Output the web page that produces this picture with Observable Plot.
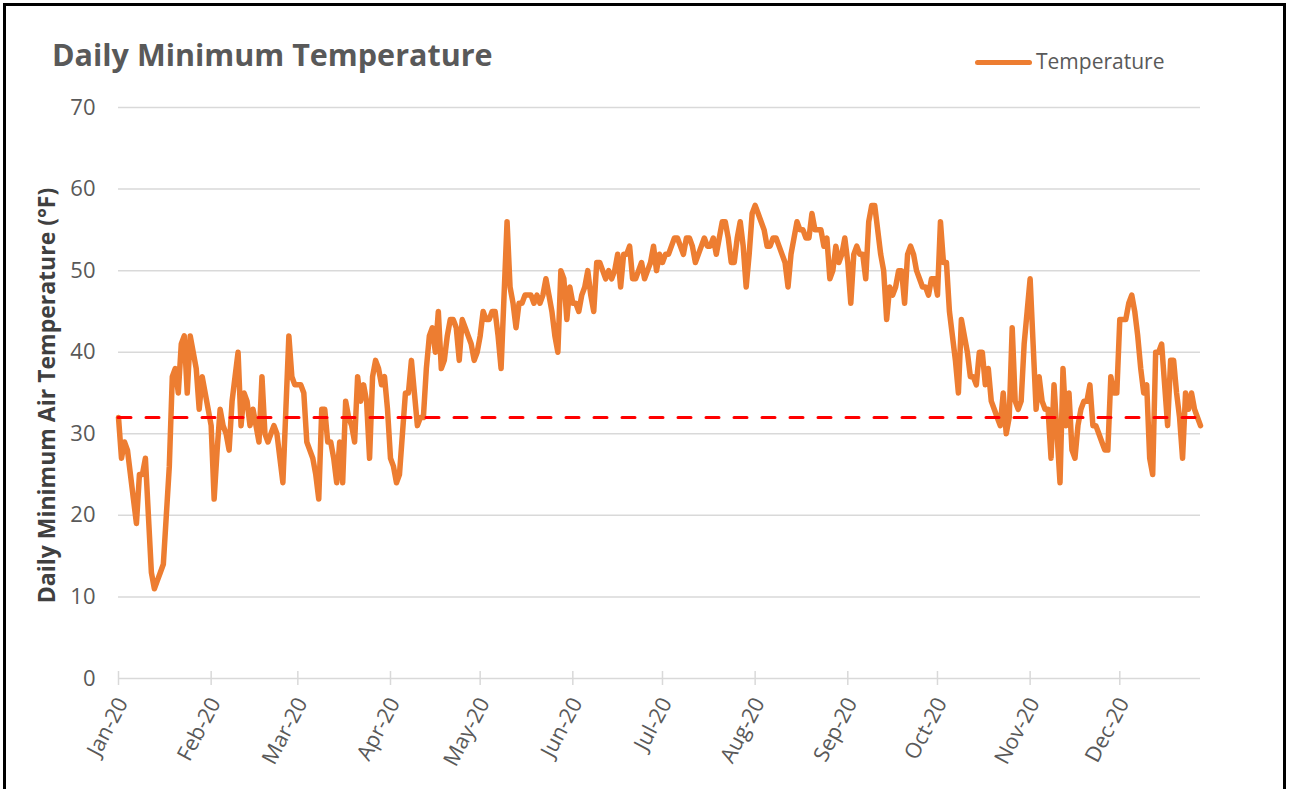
<!DOCTYPE html>
<html>
<head>
<meta charset="utf-8">
<script src="https://cdn.jsdelivr.net/npm/d3@7"></script>
<script src="https://cdn.jsdelivr.net/npm/@observablehq/plot@0.6"></script>
<style>
  body { margin: 0; background: #fff; }
  #wrap { position: relative; width: 1289px; height: 789px; overflow: hidden; font-family: "Open Sans", Lato, sans-serif; }
  #frame { position: absolute; left: 3px; top: 3px; width: 1283px; height: 900px; border: 3px solid #000; box-sizing: border-box; }
  #chart { position: absolute; left: 0; top: 0; }
  #title { position: absolute; left: 52px; top: 39px; font-size: 30.5px; font-weight: bold; color: #595959; line-height: 1; white-space: nowrap; }
  #legline { position: absolute; left: 975px; top: 59.5px; width: 57px; height: 5px; border-radius: 2.5px; background: #ED7D31; }
  #legtext { position: absolute; left: 1036px; top: 51px; font-size: 21px; color: #595959; line-height: 1; white-space: nowrap; }
</style>
</head>
<body>
<div id="wrap">
  <div id="frame"></div>
  <div id="chart"></div>
  <div id="title">Daily Minimum Temperature</div>
  <div id="legline"></div>
  <div id="legtext">Temperature</div>
</div>
<script>
// Daily minimum temperatures (°F), 2020, one array per month
const jan = [32,27,29,28,25,22,19,25,25,27,20,13,11,12,13,14,20,26,37,38,35,41,42,35,42,40,38,33,37,35,33];
const feb = [31,22,28,33,31,30,28,34,37,40,31,35,34,31,33,31,29,37,30,29,30,31,30,27,24,33,42,37,36];
const mar = [36,36,35,29,28,27,25,22,33,33,29,29,27,24,29,24,34,32,31,29,37,34,36,34,27,37,39,38,36,37,33];
const apr = [27,26,24,25,30,35,35,39,35,31,32,32,38,42,43,40,45,38,39,42,44,44,43,39,44,43,42,41,39,40];
const may = [42,45,44,44,45,45,42,38,47,56,48,46,43,46,46,47,47,47,46,47,46,47,49,47,45,42,40,50,49,44,48];
const jun = [46,46,45,47,48,50,47,45,51,51,50,49,50,49,50,52,48,52,52,53,49,49,50,51,49,50,51,53,50,52];
const jul = [51,52,52,53,54,54,53,52,54,54,53,51,52,53,54,53,53,54,52,54,56,56,54,51,51,54,56,53,48,52,57];
const aug = [58,57,56,55,53,53,54,54,53,52,51,48,52,54,56,55,55,54,54,57,55,55,55,53,54,49,50,53,51,52,54];
const sep = [51,46,52,53,52,52,49,56,58,58,55,52,50,44,48,47,48,50,50,46,52,53,52,50,49,48,48,47,49,49];
const oct = [47,56,51,51,45,42,39,35,44,42,40,37,37,36,40,40,36,38,34,33,32,31,35,30,32,43,34,33,34,41,45];
const nov = [49,41,33,37,34,33,33,27,36,30,24,38,31,35,28,27,31,33,34,34,36,31,31,30,29,28,28,37,35,35];
const dec = [44,44,44,46,47,45,42,38,35,36,27,25,40,40,41,36,31,39,39,35,32,27,35,33,35,33,32,31];

const yTicks = [0,10,20,30,40,50,60,70];
const freezing = 32;
const seriesName = "Temperature";
const yLabel = "Daily Minimum Air Temperature (°F)";

const monthly = [jan, feb, mar, apr, may, jun, jul, aug, sep, oct, nov, dec];
const values = monthly.flat();
const data = values.map((v, i) => ({ date: new Date(Date.UTC(2020, 0, 1 + i)), temp: v }));
const monthTicks = monthly.map((_, m) => new Date(Date.UTC(2020, m, 1)));

const chart = Plot.plot({
  width: 1289,
  height: 789,
  marginLeft: 118,
  marginRight: 89,
  marginTop: 107,
  marginBottom: 111,
  style: { fontFamily: "'Open Sans', Lato, sans-serif", background: "transparent", overflow: "visible" },
  x: { type: "utc", domain: [data[0].date, data[data.length - 1].date] },
  y: { domain: [0, 70] },
  marks: [
    Plot.gridY(yTicks, { stroke: "#d9d9d9", strokeOpacity: 1, strokeWidth: 1.5 }),
    Plot.ruleX(monthTicks, { y1: 0, y2: 0, insetTop: 7, insetBottom: 7, stroke: "#d9d9d9", strokeWidth: 1.5 }),
    Plot.axisY(yTicks, { tickSize: 0, tickPadding: 23, fontSize: 22, fill: "#595959", label: null }),
    Plot.axisX(monthTicks, { tickSize: 0, tickPadding: 21, dx: 4, tickRotate: -62, tickFormat: d3.utcFormat("%b-%y"), fontSize: 21.5, fill: "#595959", label: null }),
    Plot.lineY(data, { x: "date", y: "temp", stroke: "#ED7D31", strokeWidth: 5.5, strokeLinejoin: "round", strokeLinecap: "round" }),
    Plot.ruleY([freezing], { stroke: "#FF0000", strokeWidth: 3, strokeDasharray: "13,15", strokeLinecap: "round" }),
    Plot.text([yLabel], { frameAnchor: "left", textAnchor: "middle", rotate: -90, dx: -71, dy: 2.5, fontSize: 23, fontWeight: "bold", fill: "#404040" })
  ]
});
document.getElementById("chart").appendChild(chart);
document.getElementById("legtext").textContent = seriesName;
</script>
</body>
</html>
